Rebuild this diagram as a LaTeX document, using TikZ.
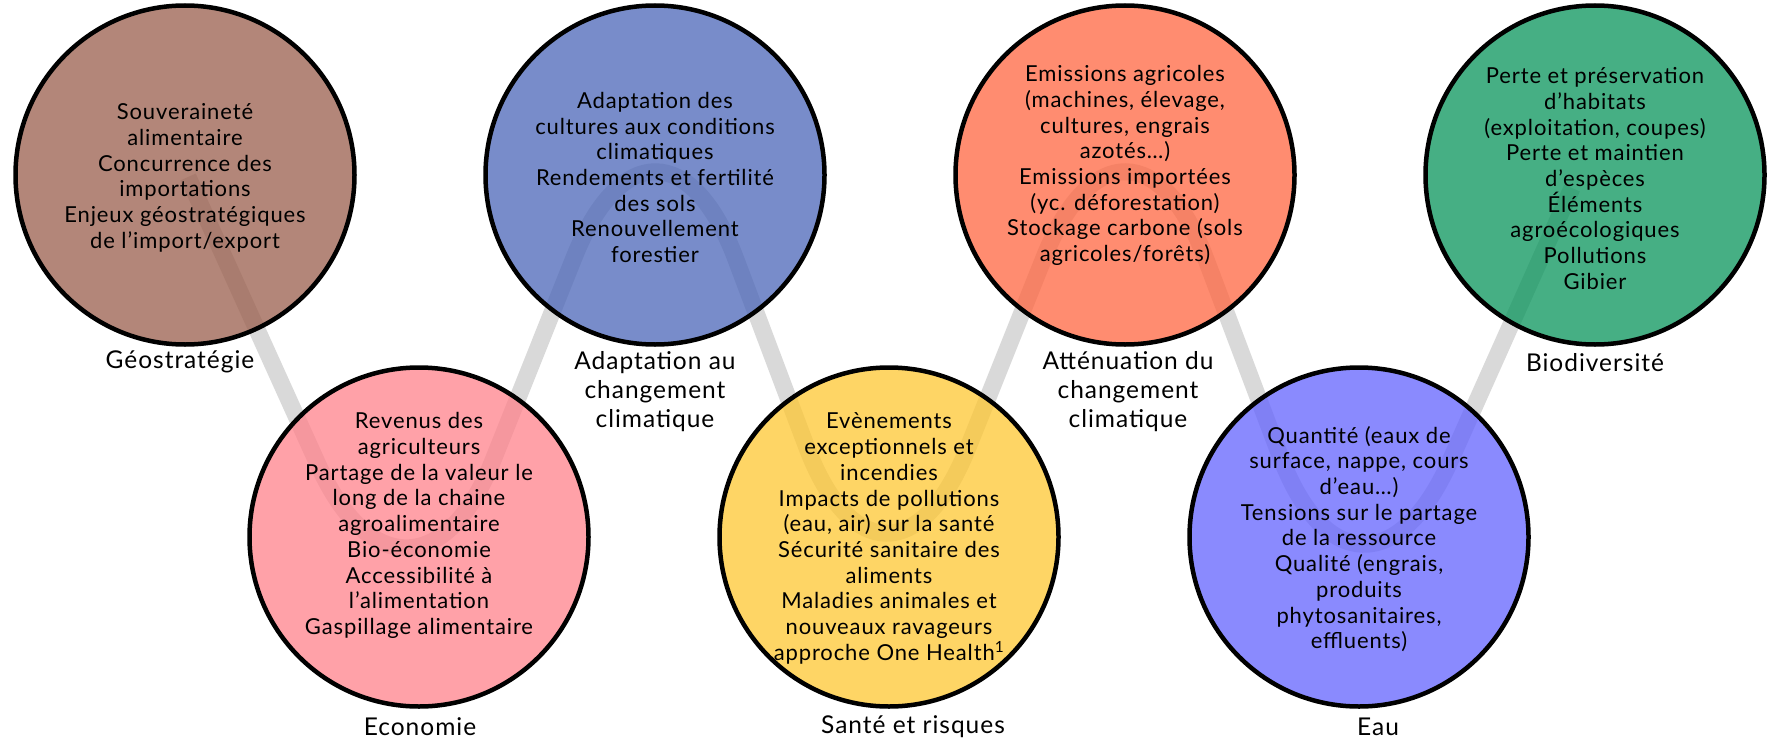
\documentclass[tikz,border=0pt]{standalone}
\usepackage{fontspec}
\setmainfont{Lato}[LetterSpace=4]
\definecolor{cbrown}{RGB}{154,94,76}
\definecolor{cblue}{RGB}{75,102,184}
\definecolor{corange}{RGB}{255,102,64}
\definecolor{cgreen}{RGB}{8,148,91}
\definecolor{cpink}{RGB}{255,130,139}
\definecolor{cyellow}{RGB}{254,199,50}
\definecolor{cpurple}{RGB}{99,99,254}
\definecolor{bandgray}{RGB}{217,217,217}
\tikzset{
  theme/.style={circle, draw=black, line width=4.5pt, fill=#1, fill opacity=0.75,
    draw opacity=1, inner sep=0pt, minimum size=339pt},
  body/.style={align=center, inner sep=0pt, font=\fontsize{22}{25.7}\selectfont},
  caption/.style={align=center, inner sep=0pt, font=\fontsize{24.5}{29}\selectfont},
  band/.style={draw=bandgray, line width=17pt, rounded corners=223pt}
}
\begin{document}
\begin{tikzpicture}[x=1pt,y=-1pt]
\useasboundingbox (0,0) rectangle (1768,741);
% zigzag band
\coordinate (s) at (188,177);
\coordinate (v1) at (410,668);
\coordinate (v2) at (657,50);
\coordinate (v3) at (885,655);
\coordinate (v4) at (1127,50);
\coordinate (v5) at (1359,665);
\coordinate (e) at (1572,188);
\draw[band] (s) -- (v1) -- (v2) -- (v3) -- (v4) -- (v5) -- (e);
% circles
\node[theme=cbrown]  (geo) at (185,175) {};
\node[theme=cblue]   (ada) at (655,175) {};
\node[theme=corange] (att) at (1125,175) {};
\node[theme=cgreen]  (bio) at (1595,175) {};
\node[theme=cpink]   (eco) at (419,537) {};
\node[theme=cyellow] (san) at (889,537) {};
\node[theme=cpurple] (eau) at (1359,537) {};
% texts
\node[body] (tgeo) at (185,178) {Souveraineté\\alimentaire\\Concurrence des\\importations\\Enjeux géostratégiques\\de l’import/export};
\node[body] (tada) at (655,177.5) {Adaptation des\\cultures aux conditions\\climatiques\\Rendements et fertilité\\des sols\\Renouvellement\\forestier};
\node[body] (tatt) at (1125,165.5) {Emissions agricoles\\(machines, élevage,\\cultures, engrais\\azotés…)\\Emissions importées\\(yc. déforestation)\\Stockage carbone (sols\\agricoles/forêts)};
\node[body] (tbio) at (1595,178.5) {Perte et préservation\\d’habitats\\(exploitation, coupes)\\Perte et maintien\\d’espèces\\Éléments\\agroécologiques\\Pollutions\\Gibier};
\node[body] (teco) at (419,525.5) {Revenus des\\agriculteurs\\Partage de la valeur le\\long de la chaine\\agroalimentaire\\Bio-économie\\Accessibilité à\\l’alimentation\\Gaspillage alimentaire};
\node[body] (tsan) at (889,538.5) {Evènements\\exceptionnels et\\incendies\\Impacts de pollutions\\(eau, air) sur la santé\\Sécurité sanitaire des\\aliments\\Maladies animales et\\nouveaux ravageurs\\approche One Health\textsuperscript{1}};
\node[body] (teau) at (1359,539) {Quantité (eaux de\\surface, nappe, cours\\d’eau…)\\Tensions sur le partage\\de la ressource\\Qualité (engrais,\\produits\\phytosanitaires,\\effluents)};
% captions
\node[caption] (lgeo) at (180,362) {Géostratégie};
\node[caption] (lada) at (655,392) {Adaptation au\\changement\\climatique};
\node[caption] (latt) at (1128,392) {Atténuation du\\changement\\climatique};
\node[caption] (lbio) at (1595,363) {Biodiversité};
\node[caption] (leco) at (420,727) {Economie};
\node[caption] (lsan) at (913,727) {Santé et risques};
\node[caption] (leau) at (1378,727) {Eau};
\end{tikzpicture}
\end{document}
